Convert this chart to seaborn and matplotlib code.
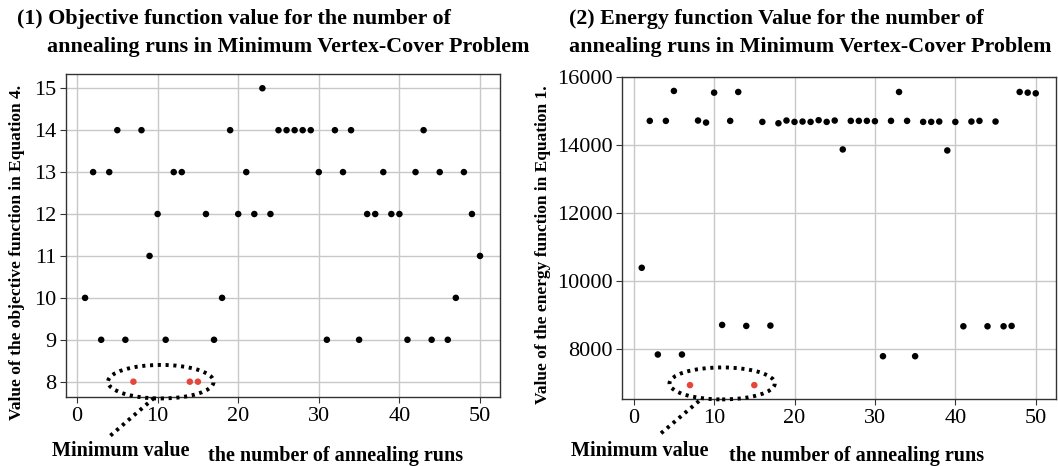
import numpy as np
import pandas as pd
import matplotlib
matplotlib.use("Agg")
import matplotlib.pyplot as plt
from matplotlib.patches import Ellipse
from matplotlib.lines import Line2D
import seaborn as sns

# ---------------- data ----------------
runs = list(range(1, 51))
objective_values = [10, 13, 9, 13, 14, 9, 8, 14, 11, 12,
                    9, 13, 13, 8, 8, 12, 9, 10, 14, 12,
                    13, 12, 15, 12, 14, 14, 14, 14, 14, 13,
                    9, 14, 13, 14, 9, 12, 12, 13, 12, 12,
                    9, 13, 14, 9, 13, 9, 10, 13, 12, 11]
energy_values = [10400, 14720, 7850, 14720, 15600, 7850, 6950, 14730, 14670, 15550,
                 8720, 14720, 15570, 8690, 6950, 14690, 8700, 14650, 14730, 14690,
                 14700, 14690, 14740, 14690, 14730, 13880, 14720, 14720, 14720, 14710,
                 7800, 14720, 15570, 14720, 7800, 14690, 14690, 14700, 13850, 14690,
                 8680, 14700, 14720, 8680, 14700, 8680, 8690, 15570, 15550, 15530]
objective_min_runs = [7, 14, 15]
energy_min_runs = [7, 15]

x_ticks = [0, 10, 20, 30, 40, 50]
obj_ticks = [8, 9, 10, 11, 12, 13, 14, 15]
energy_ticks = [8000, 10000, 12000, 14000, 16000]

title1 = ["(1) Objective function value for the number of",
          "annealing runs in Minimum Vertex-Cover Problem"]
title2 = ["(2) Energy function Value for the number of",
          "annealing runs in Minimum Vertex-Cover Problem"]
ylabel1 = "Value of the objective function in Equation 4."
ylabel2 = "Value of the energy function in Equation 1."
xlabel = "the number of annealing runs"
min_label = "Minimum value"

# ---------------- style ----------------
sns.set_theme(style="ticks")
plt.rcParams['font.family'] = ['Liberation Serif', 'DejaVu Serif']
plt.rcParams['text.color'] = 'black'
plt.rcParams['axes.edgecolor'] = '#333333'
plt.rcParams['xtick.color'] = '#333333'
plt.rcParams['ytick.color'] = '#333333'
plt.rcParams['xtick.labelcolor'] = 'black'
plt.rcParams['ytick.labelcolor'] = 'black'

W, H = 1058, 466
fig = plt.figure(figsize=(W / 100, H / 100), dpi=100)

def fx(px):
    return px / W

def fy(py):
    return 1 - py / H

ax1 = fig.add_axes([fx(66), fy(397), fx(500 - 66), (397 - 74) / H])
ax2 = fig.add_axes([fx(622), fy(399), fx(1056 - 622), (399 - 77) / H])

RED = '#e5463a'

def make_df(vals, mins):
    return pd.DataFrame({
        'run': runs,
        'value': vals,
        'kind': ['min' if r in mins else 'other' for r in runs],
    })

df1 = make_df(objective_values, objective_min_runs)
df2 = make_df(energy_values, energy_min_runs)

for ax, df in ((ax1, df1), (ax2, df2)):
    sns.scatterplot(data=df, x='run', y='value', hue='kind',
                    palette={'other': 'black', 'min': RED},
                    s=22, edgecolor='none', legend=False, ax=ax, zorder=3)
    ax.grid(True, color='#c8c8c8', linewidth=1.0)
    ax.set_axisbelow(True)
    ax.set_xticks(x_ticks)
    ax.tick_params(axis='both', labelsize=16, length=4, width=0.8, pad=3)
    ax.set_xlabel('')
    ax.set_ylabel('')
    for sp in ax.spines.values():
        sp.set_linewidth(1.0)

ax1.set_xlim(-1.365, 52.48)
ax1.set_ylim(7.635, 15.34)
ax1.set_yticks(obj_ticks)
ax2.set_xlim(-1.455, 52.52)
ax2.set_ylim(6542, 16010)
ax2.set_yticks(energy_ticks)

# ellipses around minima
DOT = (0, (0.8, 1.2))
ell_kw = dict(fill=False, edgecolor='black', linewidth=2.8,
              linestyle=DOT, clip_on=False, zorder=4)
m1 = min(objective_values)
ax1.add_patch(Ellipse((10.4, m1), 13.1, 0.80, **ell_kw))
ax2.add_patch(Ellipse((11.0, 7000), 13.1, 940, **ell_kw))

# leader lines (figure pixel coordinates, top-left origin)
def leader(p0, p1):
    fig.add_artist(Line2D([fx(p0[0]), fx(p1[0])], [fy(p0[1]), fy(p1[1])],
                          transform=fig.transFigure, color='black',
                          linewidth=2.8, linestyle=DOT, solid_capstyle='butt'))

leader((154, 398), (110, 436))
leader((699, 401), (659, 435))

# titles
tkw = dict(fontsize=15.8, fontweight='bold', va='center', ha='left')
fig.text(fx(17), fy(19), title1[0], **tkw)
fig.text(fx(47), fy(47), title1[1], **tkw)
fig.text(fx(569), fy(19), title2[0], **tkw)
fig.text(fx(569), fy(47), title2[1], **tkw)

# y labels
ykw = dict(fontsize=12.5, fontweight='bold', rotation=90, va='center', ha='center')
fig.text(fx(17), fy(252), ylabel1, **ykw)
fig.text(fx(543), fy(245), ylabel2, **ykw)

# x labels
xkw = dict(fontsize=14.5, fontweight='bold', ha='center')
fig.text(fx(336), fy(466), xlabel, va='bottom', **xkw)
fig.text(fx(857), fy(466), xlabel, va='bottom', **xkw)

# minimum value labels
fig.text(fx(121), fy(451), min_label, va='center', **xkw)
fig.text(fx(640), fy(451), min_label, va='center', **xkw)

fig.savefig('out.png', dpi=100)
